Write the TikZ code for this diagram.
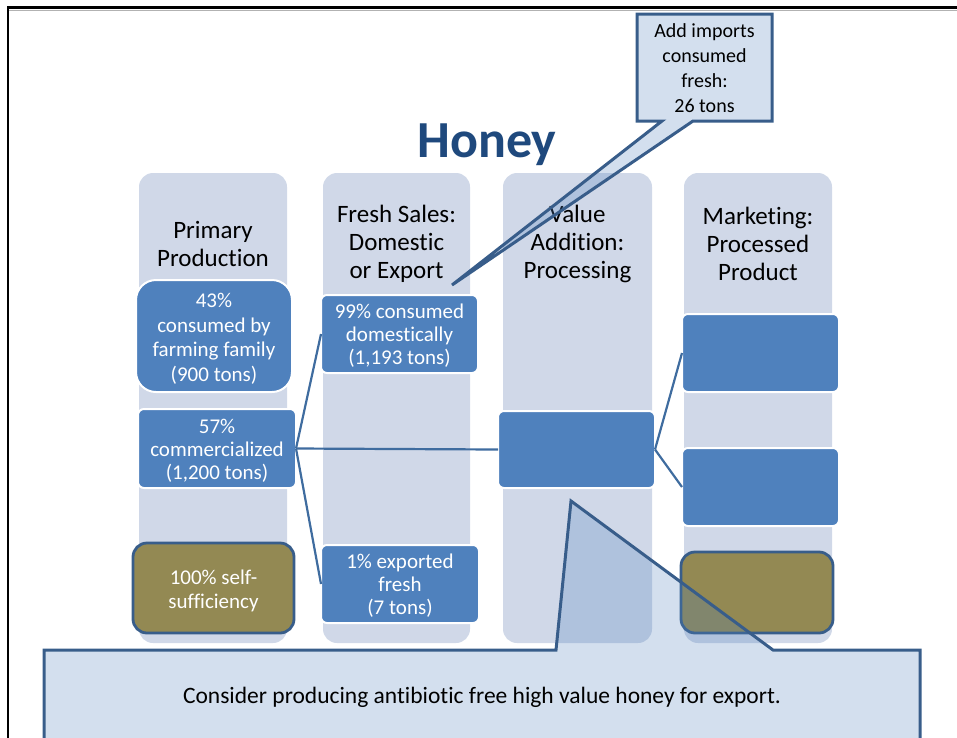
\documentclass[tikz,border=0pt]{standalone}
\usepackage{fontspec}
\setmainfont{Carlito}[Ligatures=CommonOff]
\definecolor{colbg}{HTML}{D0D8E8}
\definecolor{boxblue}{HTML}{4F81BD}
\definecolor{olivefill}{HTML}{938953}
\definecolor{darkline}{HTML}{385D8A}
\definecolor{connblue}{HTML}{3F6C9F}
\definecolor{titleblue}{HTML}{1F497D}
\begin{document}
\begin{tikzpicture}[x=1pt,y=-1pt,
  colbox/.style={fill=colbg, rounded corners=14pt, inner sep=0pt, outer sep=0pt},
  header/.style={align=center, font=\fontsize{25}{28}\selectfont, text=black, inner sep=0pt},
  titletext/.style={font=\fontsize{52}{58}\selectfont\bfseries, text=titleblue, inner sep=0pt},
  bluebox/.style={fill=boxblue, draw=white, line width=2pt, rounded corners=6pt, inner sep=0pt, outer sep=0pt},
  olivebox/.style={fill=olivefill, draw=darkline, line width=2.8pt, rounded corners=14pt, inner sep=0pt, outer sep=0pt},
  boxtext/.style={align=center, text=white, inner sep=0pt, font=\fontsize{21}{23}\selectfont},
  connector/.style={draw=connblue, line width=2.2pt},
  callout/.style={fill=boxblue, fill opacity=0.25, draw=darkline, draw opacity=1, line width=3pt, line join=miter},
  calltext/.style={align=center, text=black, inner sep=0pt},
]
\useasboundingbox (0,0) rectangle (957,737);
% frame
\draw[gray!60, line width=1pt] (9,10) -- (957,10);
\draw[black, line width=2.2pt] (8,740) -- (8,7.5) -- (960,7.5);
% columns
\node[colbox, minimum width=148pt, minimum height=470pt] (c1) at (213,408) {};
\node[colbox, minimum width=147pt, minimum height=470pt] (c2) at (396.5,408) {};
\node[colbox, minimum width=149pt, minimum height=470pt] (c3) at (577.5,408) {};
\node[colbox, minimum width=148pt, minimum height=470pt] (c4) at (758,408) {};
% headers
\node[header] (h1) at (213,243.5) {Primary\\Production};
\node[header] (h2) at (396.5,244) {Fresh Sales:\\Domestic\\or Export};
\node[header] (h3) at (577.5,244) {Value\\Addition:\\Processing};
\node[header] (h4) at (758,244) {Marketing:\\Processed\\Product};
% title
\node[titletext, anchor=base] (title) at (487,157) {Honey};
% boxes
\node[bluebox, minimum width=156pt, minimum height=112pt, rounded corners=20pt] (b1) at (214,336) {};
\node[boxtext, font=\fontsize{21}{24.5}\selectfont] (b1t) at (214,339) {43\%\\consumed by\\farming family\\(900 tons)};
\node[bluebox, minimum width=158pt, minimum height=79pt] (b2) at (217,448.5) {};
\node[boxtext] (b2t) at (217,450.5) {57\%\\commercialized\\(1,200 tons)};
\node[bluebox, minimum width=157pt, minimum height=78pt] (b3) at (399.5,334) {};
\node[boxtext] (b3t) at (399.5,336) {99\% consumed\\domestically\\(1,193 tons)};
\node[bluebox, minimum width=158pt, minimum height=78pt] (b4) at (400,584) {};
\node[boxtext] (b4t) at (400,586) {1\% exported\\fresh\\(7 tons)};
\node[bluebox, minimum width=157pt, minimum height=77pt] (b5) at (576.5,449.5) {};
\node[bluebox, minimum width=157pt, minimum height=78pt] (b6) at (760.5,353) {};
\node[bluebox, minimum width=157pt, minimum height=78pt] (b7) at (760.5,487) {};
\node[olivebox, minimum width=161pt, minimum height=90pt] (o1) at (213.5,588) {};
\node[boxtext, font=\fontsize{21}{24}\selectfont] (o1t) at (213.5,591) {100\% self-\\sufficiency};
\node[olivebox, minimum width=152pt, minimum height=81pt] (o2) at (757,592.5) {};
% connectors
\draw[connector] (b2.east) -- (b3.west);
\draw[connector] (b2.east) -- (b4.west);
\draw[connector] (b2.east) -- (b5.west);
\draw[connector] (b5.east) -- (b6.west);
\draw[connector] (b5.east) -- (b7.west);
% callouts
\draw[callout] (637,14) -- (772,14) -- (772,121) -- (693,121) -- (452,285) -- (662,121) -- (637,121) -- cycle;
\node[calltext, font=\fontsize{20}{24.8}\selectfont] (t1) at (704.5,68) {Add imports\\consumed\\fresh:\\26 tons};
\draw[callout] (44,650) -- (556,650) -- (571,501) -- (773,650) -- (920,650) -- (920,770) -- (44,770) -- cycle;
\node[calltext, font=\fontsize{23.5}{28}\selectfont] (t2) at (482,697.5) {Consider producing antibiotic free high value honey for export.};
\end{tikzpicture}
\end{document}
